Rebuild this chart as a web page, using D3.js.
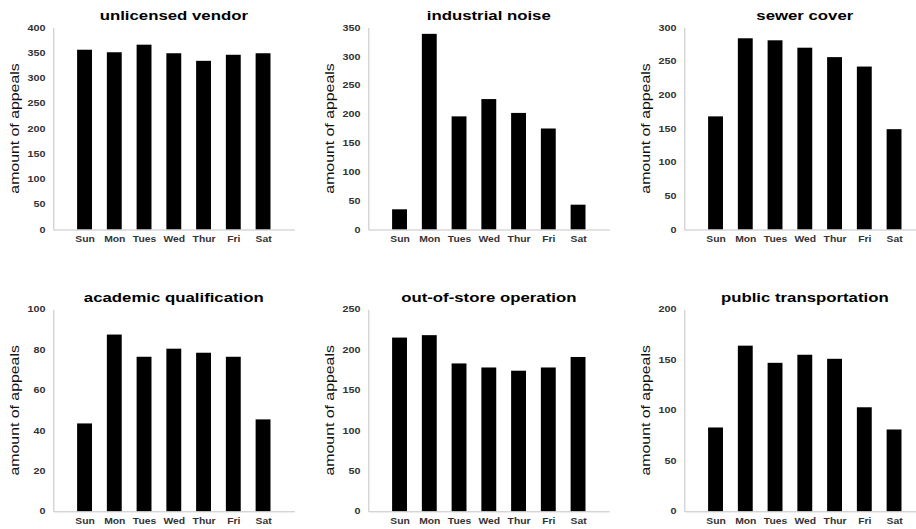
<!DOCTYPE html>
<html>
<head>
<meta charset="utf-8">
<script src="https://cdn.jsdelivr.net/npm/d3@7"></script>
<style>
  html, body { margin: 0; padding: 0; background: #fff; }
  svg { display: block; font-family: "Liberation Sans", Arial, Helvetica, sans-serif; }
</style>
</head>
<body>
<svg id="chart" width="916" height="529"></svg>
<script>
// ---- data ----
const days = ["Sun", "Mon", "Tues", "Wed", "Thur", "Fri", "Sat"];
const titles = ["unlicensed vendor", "industrial noise", "sewer cover",
                "academic qualification", "out-of-store operation", "public transportation"];
const unlicensedVendor = [356, 351, 366, 349, 334, 346, 349];
const industrialNoise = [35, 339, 196, 226, 202, 175, 43];
const sewerCover = [168, 284, 281, 270, 256, 242, 149];
const academicQualification = [43.5, 87.5, 76.5, 80.5, 78.5, 76.5, 45.5];
const outOfStoreOperation = [215, 218, 183, 178, 174, 178, 191];
const publicTransportation = [83, 164, 147, 155, 151, 103, 81];
const yMaxes = [400, 350, 300, 100, 250, 200];
const yTickSteps = [50, 50, 50, 20, 50, 50];
const yLabel = "amount of appeals";

const seriesList = [unlicensedVendor, industrialNoise, sewerCover,
                    academicQualification, outOfStoreOperation, publicTransportation];

// ---- layout ----
const colX = [53.3, 368.3, 684.3];
const rowY = [27.5, 309.3];
const plotW = 241;
const plotH = 202;
const stretchTick = 1.3;
const stretchXTick = 1.15;
const stretchTitle = 1.4;
const stretchYLabel = 1.32;

const svg = d3.select("#chart");

seriesList.forEach((vals, i) => {
  const x0 = colX[i % 3];
  const y0 = rowY[Math.floor(i / 3)];
  const g = svg.append("g").attr("transform", `translate(${x0},${y0})`);

  const x = d3.scaleLinear().domain([-0.05, 8.05]).range([0, plotW]);
  const y = d3.scaleLinear().domain([0, yMaxes[i]]).range([plotH, 0]);
  const barW = (x(1) - x(0)) * 0.5;

  // bars
  g.selectAll("rect.bar").data(vals).enter().append("rect")
    .attr("class", "bar")
    .attr("x", (d, j) => x(j + 1) - barW / 2)
    .attr("width", barW)
    .attr("y", d => y(d))
    .attr("height", d => plotH - y(d))
    .attr("fill", "#000");

  // y axis
  const yTicks = d3.range(0, yMaxes[i] + 0.001, yTickSteps[i]);
  const yAxis = d3.axisLeft(y).tickValues(yTicks).tickSize(0).tickPadding(6).tickFormat(d3.format("d"));
  const ya = g.append("g").call(yAxis);
  ya.select(".domain").attr("stroke", "#c4c4c4").attr("stroke-width", 1);
  ya.selectAll("text")
    .attr("fill", "#333").attr("font-size", 8.3).attr("font-weight", "bold")
    .attr("transform", `scale(${stretchTick},1)`);

  // x axis
  const xAxis = d3.axisBottom(x).tickValues(d3.range(1, 8)).tickSize(0).tickPadding(6.5)
    .tickFormat(d => days[d - 1]);
  const xa = g.append("g").attr("transform", `translate(0,${plotH})`).call(xAxis);
  xa.select(".domain").attr("stroke", "#c4c4c4").attr("stroke-width", 1);
  xa.selectAll("text")
    .attr("fill", "#333").attr("font-size", 9).attr("font-weight", "bold")
    .attr("transform", `scale(${stretchXTick},1)`);

  // title
  g.append("text")
    .attr("transform", `translate(${plotW / 2},${-7.2}) scale(${stretchTitle},1)`)
    .attr("text-anchor", "middle")
    .attr("font-size", 12).attr("font-weight", "bold").attr("fill", "#000")
    .text(titles[i]);

  // y label
  g.append("text")
    .attr("transform", `translate(${-34},${plotH / 2}) rotate(-90) scale(${stretchYLabel},1)`)
    .attr("text-anchor", "middle")
    .attr("font-size", 12).attr("fill", "#111")
    .text(yLabel);
});
</script>
</body>
</html>
